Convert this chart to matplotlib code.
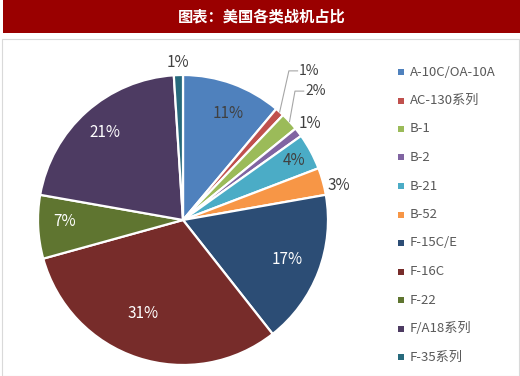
import numpy as np
import matplotlib
matplotlib.use('Agg')
import matplotlib.pyplot as plt
from matplotlib.patches import Rectangle

plt.rcParams['font.family'] = ['Noto Sans CJK SC', 'DejaVu Sans']

title = '图表：美国各类战机占比'
names = ['A-10C/OA-10A', 'AC-130系列', 'B-1', 'B-2', 'B-21', 'B-52',
         'F-15C/E', 'F-16C', 'F-22', 'F/A18系列', 'F-35系列']
shares = [11, 1, 2, 1, 4, 3, 17, 31, 7, 21, 1]
colors = ['#4F81BD', '#C0504D', '#9BBB59', '#8064A2', '#4BACC6', '#F79646',
          '#2C4D75', '#772C2A', '#5F7530', '#4D3B62', '#276A7C']

W, H = 520, 376
fig = plt.figure(figsize=(W / 100, H / 100), dpi=100)
fig.patch.set_facecolor('white')

# title bar + chart border
fig.add_artist(Rectangle((3 / W, 1 - 33 / H), 1 - 3 / W, 33 / H,
                         transform=fig.transFigure, facecolor='#9A0000', edgecolor='none'))
fig.add_artist(Rectangle((2 / W, 0), 1 - 3 / W, 1 - 39 / H, transform=fig.transFigure,
                         facecolor='none', edgecolor='#D9D9D9', linewidth=0.8))
fig.text(262 / W, 1 - 16 / H, title, color='white', fontsize=11, fontweight='bold',
         ha='center', va='center')

# pie
cx, cy, r = 183, 220, 145
ax = fig.add_axes([(cx - r) / W, (H - cy - r) / H, 2 * r / W, 2 * r / H])
wedges, _ = ax.pie(shares, colors=colors, startangle=90, counterclock=False,
                   wedgeprops=dict(edgecolor='white', linewidth=1.6))
ax.set_xlim(-1, 1)
ax.set_ylim(-1, 1)
ax.set_aspect('equal')
ax.axis('off')

# label radius / angle nudge per slice, text colour
lab_r = [0.8, None, None, 1.10, 0.87, 1.10, 0.77, 0.70, 0.82, 0.81, 1.09]
lab_da = [-3, 0, 0, 0, 0, -3, 0, -5, -2, 0, 0]
lab_c = ['#404040', '#404040', '#404040', '#404040', '#404040', '#404040',
         'white', 'white', 'white', 'white', '#404040']
for i, w in enumerate(wedges):
    mid = np.deg2rad((w.theta1 + w.theta2) / 2 + lab_da[i])
    txt = f'{shares[i]}%'
    if lab_r[i] is None:
        # leader line labels
        rr = 1.38 if i == 1 else 1.31
        ex, ey = np.cos(mid), np.sin(mid)
        tx, ty = rr * np.cos(mid), rr * np.sin(mid)
        kx, ky = tx - 0.13, ty
        ax.plot([ex * 1.0, kx - 0.06, kx], [ey * 1.0, ky, ky], color='#A6A6A6',
                linewidth=0.8, clip_on=False)
        ax.text(kx + 0.01, ky, txt, ha='left', va='center', fontsize=10,
                color='#404040', clip_on=False)
    else:
        ax.text(lab_r[i] * np.cos(mid), lab_r[i] * np.sin(mid), txt, ha='center',
                va='center', fontsize=11, color=lab_c[i], clip_on=False)

# legend
for i, (n, c) in enumerate(zip(names, colors)):
    y = 72 + i * 28.5
    fig.add_artist(Rectangle((398 / W, 1 - (y + 3) / H), 6 / W, 6 / H,
                             transform=fig.transFigure, facecolor=c, edgecolor='none'))
    fig.text(410 / W, 1 - y / H, n, fontsize=9.5, color='#595959', ha='left', va='center')

fig.savefig('out.png', dpi=100)
